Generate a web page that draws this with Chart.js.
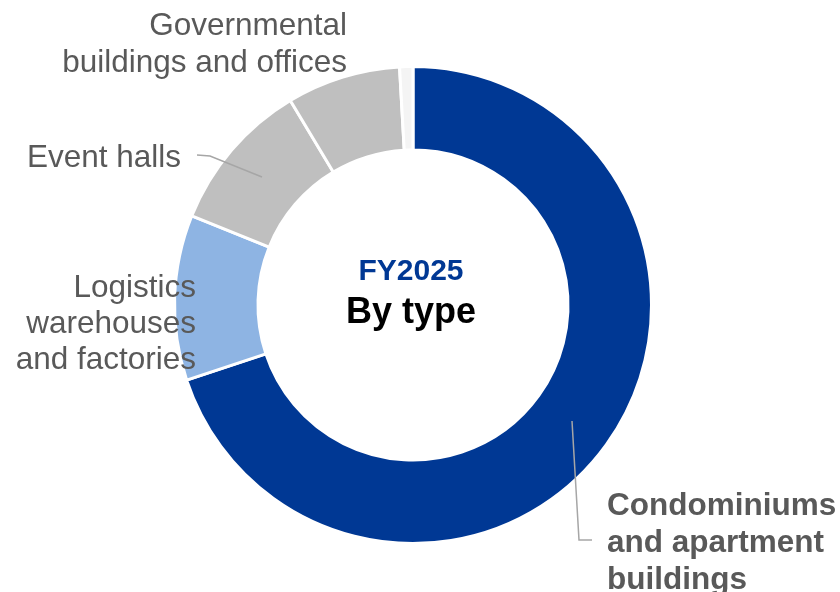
<!DOCTYPE html>
<html>
<head>
<meta charset="utf-8">
<script src="https://cdn.jsdelivr.net/npm/chart.js@4.4.1/dist/chart.umd.min.js"></script>
<style>
    html, body { margin: 0; padding: 0; background: #ffffff; }
    #wrap { width: 840px; height: 592px; position: relative; }
</style>
</head>
<body>
<div id="wrap"><canvas id="type-chart"></canvas></div>
<script>
// Data
const categories = ['Condominiums and apartment buildings', 'Logistics warehouses and factories', 'Event halls', 'Governmental buildings and offices', 'Others'];
const shares = [69.9, 11.2, 10.3, 7.7, 0.9];
const sliceColors = ['#003894', '#8eb4e3', '#bfbfbf', '#bfbfbf', '#f4f4f4'];
const centerTitle = 'FY2025';
const centerSubtitle = 'By type';

const FONT = '"Liberation Sans", Arial, sans-serif';
const LABEL_GREY = '#595959';
const LEADER_GREY = '#a6a6a6';

// Label text, line by line, per category
const labelLines = {
    condo: ['Condominiums', 'and apartment', 'buildings'],
    logistics: ['Logistics', 'warehouses', 'and factories'],
    events: ['Event halls'],
    gov: ['Governmental', 'buildings and offices']
};

function drawLines(ctx, lines, x, y, lineHeight) {
    lines.forEach((line, i) => ctx.fillText(line, x, y + i * lineHeight));
}

// Labels, leader lines and centre text
const labelsPlugin = {
    id: 'labels',
    afterDraw(chart) {
        const ctx = chart.ctx;
        const arc = chart.getDatasetMeta(0).data[0];
        const cx = arc.x;
        const cy = arc.y;

        ctx.save();
        ctx.textBaseline = 'alphabetic';

        // centre text
        ctx.textAlign = 'center';
        ctx.fillStyle = '#003894';
        ctx.font = 'bold 30px ' + FONT;
        ctx.fillText(centerTitle, cx - 2, cy - 25);
        ctx.fillStyle = '#000000';
        ctx.font = 'bold 36px ' + FONT;
        ctx.fillText(centerSubtitle, cx - 2, cy + 18);

        // grey labels
        ctx.fillStyle = LABEL_GREY;
        ctx.font = '31.5px ' + FONT;
        ctx.textAlign = 'right';
        drawLines(ctx, labelLines.gov, cx - 66, cy - 270, 37);
        drawLines(ctx, labelLines.events, cx - 232, cy - 138, 36);
        drawLines(ctx, labelLines.logistics, cx - 217, cy - 8, 36);

        ctx.textAlign = 'left';
        ctx.font = 'bold 31.5px ' + FONT;
        drawLines(ctx, labelLines.condo, cx + 194, cy + 210, 37);

        // leader lines
        ctx.strokeStyle = LEADER_GREY;
        ctx.lineWidth = 1.5;
        ctx.beginPath();
        ctx.moveTo(cx - 216, cy - 150);
        ctx.lineTo(cx - 203, cy - 149);
        ctx.lineTo(cx - 151, cy - 128);
        ctx.stroke();

        ctx.beginPath();
        ctx.moveTo(cx + 159, cy + 116);
        ctx.lineTo(cx + 166, cy + 235);
        ctx.lineTo(cx + 179, cy + 235);
        ctx.stroke();

        ctx.restore();
    }
};

function initializeTypeChart() {
    const ctx = document.getElementById('type-chart').getContext('2d');

    new Chart(ctx, {
        type: 'doughnut',
        data: {
            labels: categories,
            datasets: [{
                data: shares,
                backgroundColor: sliceColors,
                borderColor: '#ffffff',
                borderWidth: 3
            }]
        },
        options: {
            responsive: true,
            maintainAspectRatio: false,
            animation: false,
            cutout: '65%',
            layout: {
                padding: { left: 173, right: 187, top: 65, bottom: 47 }
            },
            events: [],
            plugins: {
                legend: { display: false },
                tooltip: { enabled: false }
            }
        },
        plugins: [labelsPlugin]
    });
}

initializeTypeChart();
</script>
</body>
</html>
